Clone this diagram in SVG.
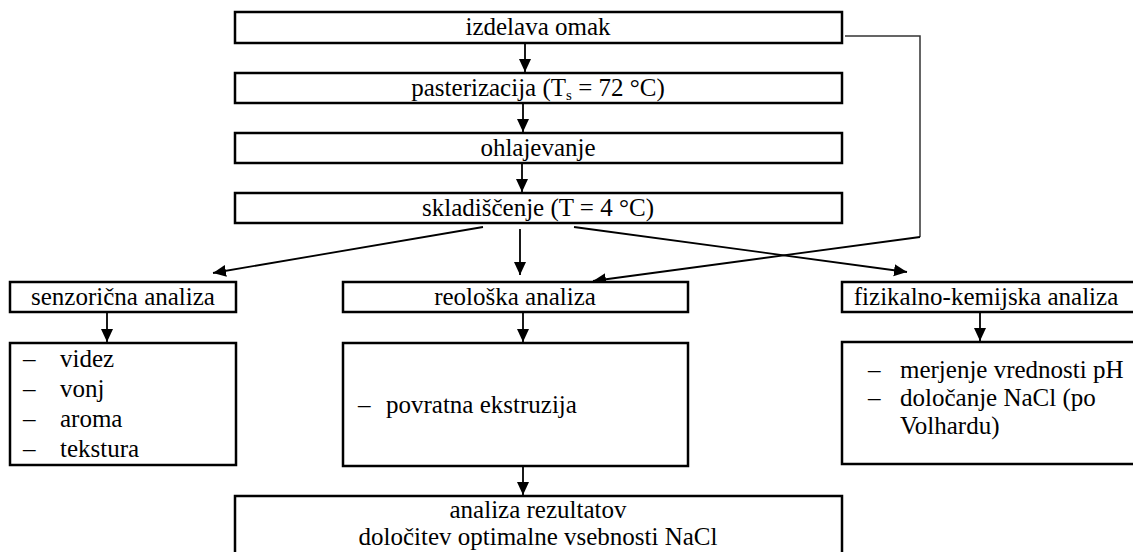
<svg xmlns="http://www.w3.org/2000/svg" width="1133" height="552" viewBox="0 0 1133 552">
<style>
.box{fill:#fff;stroke:#000;stroke-width:2.5}
text{font-family:"Liberation Serif","Times New Roman",Times,serif;font-size:25px;fill:#000}
.c{text-anchor:middle}
.ln{stroke:#000;stroke-width:1.8;fill:none}
.side{stroke:#333;stroke-width:1.5;fill:none}
</style>
<defs>
<marker id="ah" markerUnits="userSpaceOnUse" markerWidth="14" markerHeight="14" viewBox="0 0 14 14" refX="13" refY="7" orient="auto">
<path d="M0,1 L13,7 L0,13 Z" fill="#000"/>
</marker>
</defs>
<rect width="1133" height="552" fill="#fff"/>
<g id="connectors">
<line class="ln" x1="525" y1="43" x2="525" y2="72" marker-end="url(#ah)"/>
<line class="ln" x1="523" y1="103" x2="523" y2="132" marker-end="url(#ah)"/>
<line class="ln" x1="522" y1="163" x2="522" y2="192" marker-end="url(#ah)"/>
<line class="ln" x1="483" y1="227" x2="213" y2="273" marker-end="url(#ah)"/>
<line class="ln" x1="520" y1="229" x2="520" y2="275" marker-end="url(#ah)"/>
<line class="ln" x1="574" y1="227" x2="907" y2="272" marker-end="url(#ah)"/>
<polyline class="side" points="845,36 920,36 920,237"/>
<line class="ln" x1="920" y1="237" x2="593" y2="281" marker-end="url(#ah)"/>
<line class="ln" x1="107" y1="312" x2="107" y2="342" marker-end="url(#ah)"/>
<line class="ln" x1="523" y1="312" x2="523" y2="342" marker-end="url(#ah)"/>
<line class="ln" x1="980" y1="312" x2="980" y2="341" marker-end="url(#ah)"/>
<line class="ln" x1="523" y1="466" x2="523" y2="495" marker-end="url(#ah)"/>
</g>
<g id="nodes" font-family="Liberation Serif, Times New Roman, serif" font-size="25">
<g id="izdelava">
<rect class="box" x="235" y="12" width="607" height="31"/>
<text class="c" x="538" y="35">izdelava omak</text>
</g>
<g id="pasterizacija">
<rect class="box" x="235" y="73" width="607" height="30"/>
<text class="c" x="538" y="96">pasterizacija (T<tspan font-size="15" dy="4">s</tspan><tspan dy="-4"> = 72 °C)</tspan></text>
</g>
<g id="ohlajevanje">
<rect class="box" x="235" y="133" width="607" height="30"/>
<text class="c" x="538" y="156">ohlajevanje</text>
</g>
<g id="skladiscenje">
<rect class="box" x="235" y="193" width="607" height="30"/>
<text class="c" x="538" y="216">skladiščenje (T = 4 °C)</text>
</g>
<g id="senzoricna">
<rect class="box" x="10" y="282" width="226" height="30"/>
<text class="c" x="123" y="305">senzorična analiza</text>
</g>
<g id="reoloska">
<rect class="box" x="343" y="282" width="345" height="30"/>
<text class="c" x="515" y="305">reološka analiza</text>
</g>
<g id="fizikalno">
<rect class="box" x="842" y="282" width="300" height="30"/>
<text class="c" x="986" y="305">fizikalno-kemijska analiza</text>
</g>
<g id="senzoricna-list">
<rect class="box" x="10" y="343" width="226" height="122"/>
<text x="23" y="367">–</text><text x="60" y="367">videz</text>
<text x="23" y="397">–</text><text x="60" y="397">vonj</text>
<text x="23" y="427">–</text><text x="60" y="427">aroma</text>
<text x="23" y="457">–</text><text x="60" y="457">tekstura</text>
</g>
<g id="reoloska-list">
<rect class="box" x="343" y="343" width="345" height="123"/>
<text x="358" y="413">–</text><text x="386" y="413">povratna ekstruzija</text>
</g>
<g id="fizikalno-list">
<rect class="box" x="842" y="342" width="300" height="122"/>
<text x="868" y="378">–</text><text x="900" y="378">merjenje vrednosti pH</text>
<text x="868" y="406">–</text><text x="900" y="406">določanje NaCl (po</text>
<text x="900" y="434">Volhardu)</text>
</g>
<g id="rezultati">
<rect class="box" x="235" y="496" width="607" height="70"/>
<text class="c" x="538" y="518">analiza rezultatov</text>
<text class="c" x="538" y="545">določitev optimalne vsebnosti NaCl</text>
</g>
</g>
</svg>
